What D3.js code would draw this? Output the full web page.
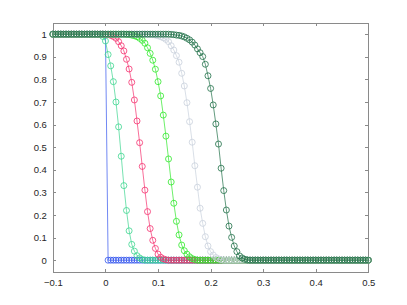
<!DOCTYPE html>
<html>
<head>
<meta charset="utf-8">
<script src="https://cdn.jsdelivr.net/npm/d3@7"></script>
<style>
body { margin: 0; background: #fff; }
svg text { font-family: "Liberation Sans", Arial, sans-serif; font-size: 9.5px; fill: #262626; }
</style>
</head>
<body>
<div id="chart"></div>
<script>
// sample positions: -0.1 .. 0.5, step 0.005
var xGrid = d3.range(121).map(function(i) { return +(-0.1 + i * 0.005).toFixed(3); });

var xTicks = [-0.1, 0, 0.1, 0.2, 0.3, 0.4, 0.5];
var yTicks = [0, 0.1, 0.2, 0.3, 0.4, 0.5, 0.6, 0.7, 0.8, 0.9, 1];

var blueVals = [
  1,1,1,1,1,1,1,1,1,1, 1,1,1,1,1,1,1,1,1,1, 1,
  0,0,0,0,0,0,0,0,0,0, 0,0,0,0,0,0,0,0,0,0, 0,0,0,0,0,0,0,0,0,0, 0,0,0,0,0,0,0,0,0,0,
  0,0,0,0,0,0,0,0,0,0, 0,0,0,0,0,0,0,0,0,0, 0,0,0,0,0,0,0,0,0,0, 0,0,0,0,0,0,0,0,0,0,
  0,0,0,0,0,0,0,0,0,0, 0,0,0,0,0,0,0,0,0,0
];
var tealVals = [
  1,1,1,1,1,1,1,1,1,1, 1,1,1,1,1,1,1,1,
  0.998,0.99,0.97,0.91,0.86,0.79,0.70,0.59,0.46,0.33,0.22,0.13,0.07,0.04,0.02,0.01,0.003,
  0,0,0,0,0,0,0,0,0,0, 0,0,0,0,0,0,0,0,0,0, 0,0,0,0,0,0,0,0,0,0, 0,0,0,0,0,0,0,0,0,0,
  0,0,0,0,0,0,0,0,0,0, 0,0,0,0,0,0,0,0,0,0, 0,0,0,0,0,0,0,0,0,0, 0,0,0,0,0,0,0,0,0,0,
  0,0,0,0,0,0
];
var pinkVals = [
  1,1,1,1,1,1,1,1,1,1, 1,1,1,1,1,1,1,1,1,1, 1,
  0.998,0.995,0.99,0.982,0.967,0.949,0.926,0.889,0.846,0.787,0.709,0.616,0.52,0.415,0.31,
  0.215,0.14,0.088,0.052,0.027,0.013,0.006,0.002,
  0,0,0,0,0,0,0,0,0,0, 0,0,0,0,0,0,0,0,0,0, 0,0,0,0,0,0,0,0,0,0, 0,0,0,0,0,0,0,0,0,0,
  0,0,0,0,0,0,0,0,0,0, 0,0,0,0,0,0,0,0,0,0, 0,0,0,0,0,0,0,0,0,0, 0,0,0,0,0,0,0
];
var greenVals = [
  1,1,1,1,1,1,1,1,1,1, 1,1,1,1,1,1,1,1,1,1, 1,1,1,1,1,1,1,1,
  0.999,0.998,0.996,0.993,0.989,0.982,0.973,0.96,0.94,0.915,0.885,0.845,0.79,0.727,
  0.642,0.549,0.448,0.346,0.252,0.172,0.112,0.067,0.042,0.027,0.015,0.007,0.003,
  0,0,0,0,0,0,0,0,0,0, 0,0,0,0,0,0,0,0,0,0, 0,0,0,0,0,0,0,0,0,0, 0,0,0,0,0,0,0,0,0,0,
  0,0,0,0,0,0,0,0,0,0, 0,0,0,0,0,0,0,0,0,0, 0,0,0,0,0,0
];
var grayVals = [
  1,1,1,1,1,1,1,1,1,1, 1,1,1,1,1,1,1,1,1,1, 1,1,1,1,1,1,1,1,1,1, 1,1,1,1,1,1,1,
  0.999,0.998,0.996,0.993,0.989,0.984,0.977,0.967,0.949,0.93,0.905,0.876,0.827,0.771,
  0.697,0.613,0.522,0.418,0.323,0.23,0.163,0.104,0.063,0.038,0.023,0.012,0.006,0.002,
  0,0,0,0,0,0,0,0,0,0, 0,0,0,0,0,0,0,0,0,0, 0,0,0,0,0,0,0,0,0,0, 0,0,0,0,0,0,0,0,0,0,
  0,0,0,0,0,0,0,0,0,0, 0,0,0,0,0,0
];
var darkVals = [
  1,1,1,1,1,1,1,1,1,1, 1,1,1,1,1,1,1,1,1,1, 1,1,1,1,1,1,1,1,1,1, 1,1,1,1,1,1,1,1,1,1,
  1,1,1,1,1,
  0.999,0.998,0.996,0.995,0.992,0.988,0.982,0.975,0.965,0.952,0.935,0.918,0.901,0.867,0.816,
  0.76,0.687,0.603,0.514,0.407,0.308,0.222,0.151,0.101,0.063,0.038,0.019,0.01,0.004,0.001,
  0,0,0,0,0,0,0,0,0,0, 0,0,0,0,0,0,0,0,0,0, 0,0,0,0,0,0,0,0,0,0, 0,0,0,0,0,0,0,0,0,0,
  0,0,0,0,0,0
];

var seriesVals = [blueVals, tealVals, pinkVals, greenVals, grayVals, darkVals];
var color = ['#3355ee', '#3cd68f', '#f5306e', '#2ee82a', '#c9d1dc', '#1f7048'];

var width = 407,
    height = 305;
var plot = { left: 52.9, right: 368.3, top: 22.9, bottom: 271.5 };

var svg = d3.select("#chart").append("svg")
    .attr("width", width)
    .attr("height", height);

var x = d3.scaleLinear().domain([-0.1, 0.5]).range([plot.left, plot.right]);
var y = d3.scaleLinear().domain([-0.05, 1.05]).range([plot.bottom, plot.top]);

function styleAxis(g) {
    g.selectAll("path, line")
        .attr("stroke", "#8a8a8a")
        .attr("stroke-width", 1)
        .attr("shape-rendering", "crispEdges");
    g.selectAll("text").attr("fill", "#262626");
}

var fmt = function(d) { return d3.format("")(+d.toFixed(1)); };

svg.append("g")
    .attr("transform", "translate(0," + plot.bottom + ")")
    .call(d3.axisBottom(x).tickValues(xTicks).tickFormat(fmt).tickSizeInner(-3).tickSizeOuter(0).tickPadding(8))
    .call(styleAxis);

svg.append("g")
    .attr("transform", "translate(0," + plot.top + ")")
    .call(d3.axisTop(x).tickValues(xTicks).tickFormat("").tickSizeInner(-3).tickSizeOuter(0))
    .call(styleAxis);

svg.append("g")
    .attr("transform", "translate(" + plot.left + ",0)")
    .call(d3.axisLeft(y).tickValues(yTicks).tickFormat(fmt).tickSizeInner(-3).tickSizeOuter(0).tickPadding(6))
    .call(styleAxis);

svg.append("g")
    .attr("transform", "translate(" + plot.right + ",0)")
    .call(d3.axisRight(y).tickValues(yTicks).tickFormat("").tickSizeInner(-3).tickSizeOuter(0))
    .call(styleAxis);

svg.selectAll(".domain").attr("fill", "none");

var line = d3.line()
    .x(function(d, i) { return x(xGrid[i]); })
    .y(function(d) { return y(d); });

seriesVals.forEach(function(vals, s) {
    var g = svg.append("g").attr("class", "series");
    g.append("path")
        .datum(vals)
        .attr("d", line)
        .attr("fill", "none")
        .attr("stroke", color[s])
        .attr("stroke-width", 0.7);
    g.selectAll("circle")
        .data(vals)
        .enter().append("circle")
        .attr("cx", function(d, i) { return x(xGrid[i]); })
        .attr("cy", function(d) { return y(d); })
        .attr("r", 3)
        .attr("fill", "none")
        .attr("stroke", color[s])
        .attr("stroke-width", 0.8);
});
</script>
</body>
</html>
